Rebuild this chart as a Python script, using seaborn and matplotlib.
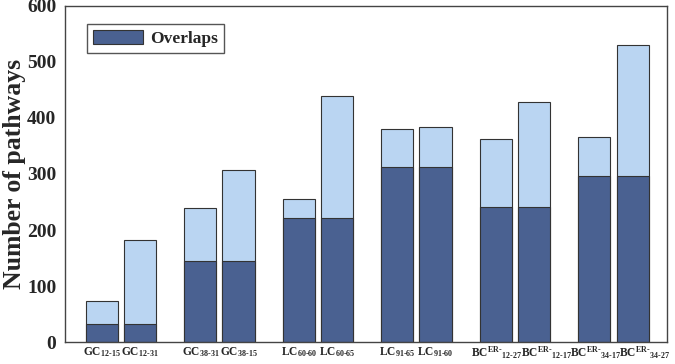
import numpy as np
import pandas as pd
import matplotlib
matplotlib.use("Agg")
import matplotlib.pyplot as plt
import matplotlib.transforms as mtransforms
import seaborn as sns

# Data
labels = [
    r"GC$_{\text{12-15}}$", r"GC$_{\text{12-31}}$",
    r"GC$_{\text{38-31}}$", r"GC$_{\text{38-15}}$",
    r"LC$_{\text{60-60}}$", r"LC$_{\text{60-65}}$",
    r"LC$_{\text{91-65}}$", r"LC$_{\text{91-60}}$",
    r"BC$^{\text{ER-}}{}_{\text{12-27}}$", r"BC$^{\text{ER-}}{}_{\text{12-17}}$",
    r"BC$^{\text{ER-}}{}_{\text{34-17}}$", r"BC$^{\text{ER-}}{}_{\text{34-27}}$",
]
totals = [73, 183, 240, 307, 255, 440, 380, 383, 363, 428, 366, 530]
overlaps = [32, 32, 145, 145, 222, 222, 313, 313, 242, 242, 297, 297]

# bars come in pairs, with a wider gap between pairs
idx = np.arange(len(labels))
pos = (idx // 2) * 2.58 + (idx % 2)

df = pd.DataFrame({"pos": pos, "total": totals, "overlap": overlaps})

sns.set_style("white")
plt.rcParams["font.family"] = ["Liberation Serif", "DejaVu Serif"]
plt.rcParams["font.weight"] = "bold"
plt.rcParams["mathtext.fontset"] = "custom"
plt.rcParams["mathtext.rm"] = "Liberation Serif:bold"
plt.rcParams["mathtext.it"] = "Liberation Serif:bold"
plt.rcParams["mathtext.bf"] = "Liberation Serif:bold"

dark = "#4a6191"
light = "#bad5f2"

fig = plt.figure(figsize=(6.75, 3.64), dpi=100)
ax = fig.add_axes([0.096, 0.060, 0.892, 0.924])

sns.barplot(data=df, x="pos", y="total", native_scale=True, color=light,
            width=0.84, edgecolor="#333333", linewidth=0.8, saturation=1, ax=ax)
sns.barplot(data=df, x="pos", y="overlap", native_scale=True, color=dark,
            width=0.84, edgecolor="#333333", linewidth=0.8, saturation=1,
            ax=ax, label="Overlaps")

ax.set_xlim(-0.97, 14.8)
ax.set_ylim(0, 600)
ax.set_yticks(range(0, 601, 100))
ax.set_xticks(pos)
ax.set_xticklabels(labels, fontsize=8.3, fontweight="bold")
ax.tick_params(axis="y", direction="in", length=6, labelsize=14, pad=6)
ax.tick_params(axis="x", length=0, pad=2)
for t in ax.get_yticklabels():
    t.set_fontweight("bold")

# the long BC labels sit side by side: nudge the second of each pair right
xt = ax.get_xticklabels()
for i in (8, 10):
    xt[i].set_transform(xt[i].get_transform() +
                        mtransforms.ScaledTranslation(1 / 100, 0, fig.dpi_scale_trans))
for i in (9, 11):
    xt[i].set_transform(xt[i].get_transform() +
                        mtransforms.ScaledTranslation(12 / 100, 0, fig.dpi_scale_trans))

ax.set_xlabel("")
ax.set_ylabel("Number of pathways", fontsize=18.5, fontweight="bold", va="center")
ax.yaxis.set_label_coords(-0.084, 0.5)
for s in ax.spines.values():
    s.set_color("#444444")
    s.set_linewidth(1.0)

leg = ax.legend(loc="upper left", bbox_to_anchor=(0.022, 0.972), fancybox=False,
                edgecolor="#555555", framealpha=1, handlelength=2.9,
                handleheight=0.85, handletextpad=0.4,
                prop={"family": "Liberation Serif", "weight": "bold", "size": 12.5},
                borderpad=0.35)
leg.get_frame().set_linewidth(1.0)

fig.savefig("out.png", dpi=100)
